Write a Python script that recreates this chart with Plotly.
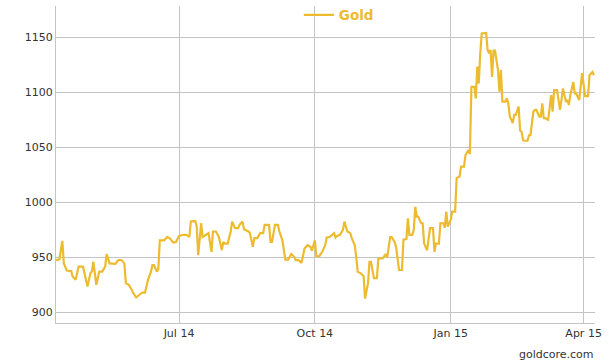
import plotly.graph_objects as go

dates = [
    "2014-04-08", "2014-04-11", "2014-04-13", "2014-04-14", "2014-04-16", "2014-04-19", "2014-04-20",
    "2014-04-22", "2014-04-24", "2014-04-27", "2014-04-28", "2014-04-30", "2014-05-02", "2014-05-03",
    "2014-05-04", "2014-05-06", "2014-05-08", "2014-05-10", "2014-05-12", "2014-05-13", "2014-05-15",
    "2014-05-17", "2014-05-19", "2014-05-20", "2014-05-21", "2014-05-23", "2014-05-25", "2014-05-26",
    "2014-05-28", "2014-05-30", "2014-05-31", "2014-06-02", "2014-06-04", "2014-06-06", "2014-06-08",
    "2014-06-09", "2014-06-10", "2014-06-12", "2014-06-13", "2014-06-14", "2014-06-16", "2014-06-17",
    "2014-06-18", "2014-06-21", "2014-06-23", "2014-06-25", "2014-06-27", "2014-06-29",
    "2014-07-01", "2014-07-04", "2014-07-06", "2014-07-08", "2014-07-09", "2014-07-12", "2014-07-13",
    "2014-07-14", "2014-07-16", "2014-07-17", "2014-07-19", "2014-07-21", "2014-07-23", "2014-07-24",
    "2014-07-26", "2014-07-28", "2014-07-30", "2014-07-31", "2014-08-01", "2014-08-03", "2014-08-05",
    "2014-08-06", "2014-08-08", "2014-08-10", "2014-08-11", "2014-08-13", "2014-08-14", "2014-08-17",
    "2014-08-18", "2014-08-20", "2014-08-21", "2014-08-23", "2014-08-25", "2014-08-27", "2014-08-28",
    "2014-08-31", "2014-09-01", "2014-09-02", "2014-09-04", "2014-09-06", "2014-09-07", "2014-09-09",
    "2014-09-11", "2014-09-13", "2014-09-15", "2014-09-17", "2014-09-18", "2014-09-20", "2014-09-22",
    "2014-09-23", "2014-09-24", "2014-09-26", "2014-09-28", "2014-09-29",
    "2014-10-01", "2014-10-02", "2014-10-04", "2014-10-06", "2014-10-08", "2014-10-09", "2014-10-11",
    "2014-10-14", "2014-10-15", "2014-10-16", "2014-10-18", "2014-10-20", "2014-10-21", "2014-10-23",
    "2014-10-25", "2014-10-26", "2014-10-28", "2014-10-29", "2014-10-30", "2014-11-01", "2014-11-03",
    "2014-11-04", "2014-11-06", "2014-11-07", "2014-11-08", "2014-11-10", "2014-11-12", "2014-11-13",
    "2014-11-16", "2014-11-18", "2014-11-19", "2014-11-21", "2014-11-22", "2014-11-24", "2014-11-25",
    "2014-11-27", "2014-11-29", "2014-11-30", "2014-12-02", "2014-12-03", "2014-12-04", "2014-12-06",
    "2014-12-07", "2014-12-08", "2014-12-09", "2014-12-10", "2014-12-12", "2014-12-13", "2014-12-14",
    "2014-12-16", "2014-12-17", "2014-12-18", "2014-12-20", "2014-12-21", "2014-12-22", "2014-12-24",
    "2014-12-25", "2014-12-27", "2014-12-28", "2014-12-29", "2014-12-30",
    "2015-01-01", "2015-01-02", "2015-01-04", "2015-01-05", "2015-01-07", "2015-01-08", "2015-01-10",
    "2015-01-11", "2015-01-13", "2015-01-14", "2015-01-15", "2015-01-17", "2015-01-18", "2015-01-19",
    "2015-01-20", "2015-01-21", "2015-01-22", "2015-01-25", "2015-01-26", "2015-01-27", "2015-01-28",
    "2015-01-29", "2015-01-30", "2015-01-31", "2015-02-02", "2015-02-03", "2015-02-04", "2015-02-05",
    "2015-02-07", "2015-02-08", "2015-02-09", "2015-02-10", "2015-02-12", "2015-02-13", "2015-02-14",
    "2015-02-16", "2015-02-17", "2015-02-18", "2015-02-19", "2015-02-20", "2015-02-22", "2015-02-23",
    "2015-02-24", "2015-02-26", "2015-02-27", "2015-02-28", "2015-03-02", "2015-03-03", "2015-03-04",
    "2015-03-05", "2015-03-06", "2015-03-08", "2015-03-09", "2015-03-10", "2015-03-11", "2015-03-12",
    "2015-03-14", "2015-03-15", "2015-03-16", "2015-03-17", "2015-03-18", "2015-03-20", "2015-03-21",
    "2015-03-22", "2015-03-23", "2015-03-25", "2015-03-26", "2015-03-27", "2015-03-29", "2015-03-30",
    "2015-03-31", "2015-04-02", "2015-04-04", "2015-04-05", "2015-04-07", "2015-04-08",
]

gold_eur = [
    947.5, 948, 965, 944.5, 938, 937.5, 932.5,
    929.5, 941.5, 941.5, 935.5, 923.5, 935.5, 937,
    946, 925, 937, 937, 941.5, 953, 944.5,
    944, 944, 946, 947.5, 947.5, 944.5, 926.5,
    925, 920.5, 917.5, 913.5, 915.5, 918, 918,
    923.5, 929.5, 937, 943, 943, 937, 939,
    965.5, 965.5, 968.5, 967, 963.5, 964,
    969.5, 970.5, 970.5, 968.5, 982.5, 983, 978,
    952, 981, 968.5, 970.5, 972, 955, 973.5,
    973.5, 968.5, 956.5, 964, 962.5, 962.5, 973.5,
    982.5, 976.5, 976.5, 979.5, 982.5, 975.5, 973.5,
    972, 959.5, 967.5, 967.5, 972, 972, 979.5,
    979.5, 964, 964, 979.5, 979.5, 973.5, 965.5,
    948, 948, 953, 950.5, 947.5, 947.5, 945,
    950.5, 958, 961, 959.5, 956,
    965.5, 951, 951, 955, 961, 968, 968.5,
    972, 968, 969.5, 970.5, 975, 982.5, 973.5,
    972, 967.5, 961, 950.5, 937, 935.5, 933,
    912.5, 926.5, 946, 946, 931, 931, 949,
    949, 953, 950, 968.5, 968.5, 964, 959.5,
    938.5, 938.5, 966, 966.5, 985.5, 970.5, 970.5,
    975, 996, 987, 987, 981, 981, 962.5,
    956.5, 968.5, 976.5, 976.5, 955, 962.5, 962.5,
    981, 981, 977, 991.5, 978,
    984, 991.5, 991.5, 1022, 1023.5, 1032.5, 1032.5,
    1043, 1047.5, 1044, 1105, 1105, 1094.5, 1123.5,
    1108, 1135.5, 1153.5, 1154, 1138.5, 1135.5, 1138.5,
    1114, 1138, 1138, 1120.5, 1100.5, 1120.5, 1091.5,
    1091.5, 1094.5, 1090, 1078, 1072, 1079.5, 1079.5,
    1087, 1065.5, 1064, 1056.5, 1056, 1056, 1061,
    1061, 1082.5, 1084, 1084, 1078, 1078, 1090,
    1076.5, 1076.5, 1075, 1090, 1097.5, 1082.5, 1102,
    1102, 1093, 1084, 1093, 1103.5, 1091.5, 1093,
    1088.5, 1097.5, 1109.5, 1099, 1099, 1093, 1105,
    1117.5, 1096.5, 1096.5, 1115.5, 1118.5, 1115.5,
]

y_ticks = [900, 950, 1000, 1050, 1100, 1150]

GOLD = "#EDBB30"
FONT = "DejaVu Sans"

fig = go.Figure()
fig.add_trace(go.Scatter(
    x=dates, y=gold_eur, mode="lines", name="Gold",
    line=dict(color=GOLD, width=2.2),
))

fig.update_layout(
    width=613, height=364,
    margin=dict(l=56, r=18, t=6, b=41, autoexpand=False),
    paper_bgcolor="white", plot_bgcolor="white",
    font=dict(family=FONT, size=11, color="#333333"),
    showlegend=True,
    legend=dict(
        orientation="h", x=0.4506, xanchor="left", y=0.9716, yanchor="middle",
        font=dict(family=FONT, size=13.5, color=GOLD, weight="bold"),
        bgcolor="rgba(0,0,0,0)",
    ),
    xaxis=dict(
        type="date",
        range=["2014-04-08 17:00", "2015-04-08 17:00"],
        tick0="2014-07-01", dtick="M3", tickformat="%b %y",
        showgrid=True, gridcolor="#C4C4C4", gridwidth=1,
        showline=True, linecolor="#C4C4C4", linewidth=1,
        ticks="", zeroline=False,
        tickfont=dict(family=FONT, size=11, color="#333333"),
    ),
    yaxis=dict(
        range=[890.3, 1178.5],
        tickvals=y_ticks,
        showgrid=True, gridcolor="#C4C4C4", gridwidth=1,
        showline=True, linecolor="#C4C4C4", linewidth=1,
        ticks="", zeroline=False,
        tickfont=dict(family=FONT, size=11, color="#333333"),
    ),
    annotations=[dict(
        text="goldcore.com", xref="paper", yref="paper",
        x=1, y=-0.098, xanchor="right", yanchor="middle", xshift=1,
        showarrow=False, font=dict(family=FONT, size=11, color="#333333"),
    )],
)

fig.write_html(
    "out.html",
    config={"displayModeBar": False},
    post_script="document.body.style.margin='0';document.body.style.padding='0';",
)
